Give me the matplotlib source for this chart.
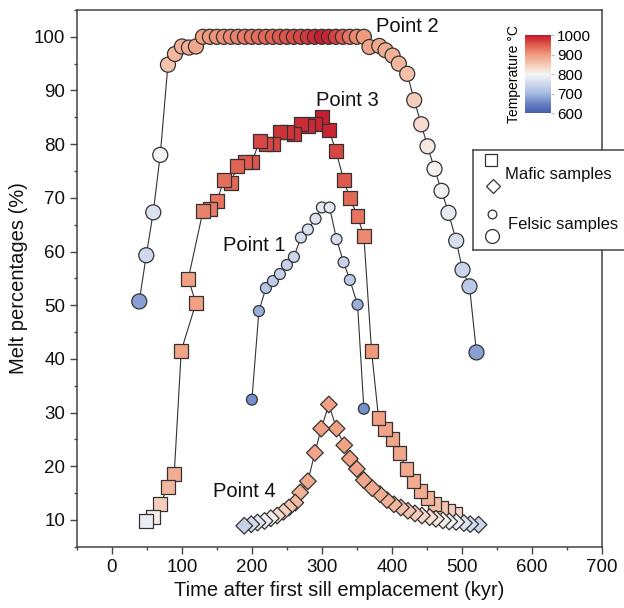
import numpy as np
import matplotlib
matplotlib.use("Agg")
import matplotlib.pyplot as plt
from matplotlib.colors import Normalize, LinearSegmentedColormap

plt.rcParams['font.family'] = ['Liberation Sans', 'DejaVu Sans']

# Point 1 - felsic (small circles)
t1 = [200, 210, 220, 230, 240, 250, 260, 270, 280, 291, 300, 311, 321, 331, 340, 351, 360]
v1 = [32.4, 48.9, 53.2, 54.5, 55.8, 57.5, 59.0, 62.6, 64.1, 66.1, 68.2, 68.2, 62.3, 58.0, 54.7, 50.1, 30.7]
T1 = [660, 690, 720, 730, 738, 742, 748, 758, 764, 770, 778, 778, 758, 742, 728, 690, 660]

# Point 2 - felsic (large circles)
t2 = [39, 49, 59, 69, 80, 90, 100, 110, 120,
      130, 140, 150, 160, 170, 180, 190, 200, 210, 220, 230, 240,
      250, 260, 270, 280, 290, 300, 310, 320, 330, 340, 350, 360,
      368, 382, 391, 401, 410, 422, 432, 442, 451, 461, 471, 481, 492, 501, 511, 521]
v2 = [50.7, 59.3, 67.3, 78.0, 94.8, 96.8, 98.2, 98.0, 98.2,
      100, 100, 100, 100, 100, 100, 100, 100, 100, 100, 100, 100,
      100, 100, 100, 100, 100, 100, 100, 100, 100, 100, 100, 100,
      98.1, 98.3, 97.5, 96.5, 95.0, 93.1, 88.2, 83.7, 79.6, 75.4, 71.3, 67.2, 62.0, 56.6, 53.5, 41.2]
T2 = [675, 750, 765, 800, 855, 870, 875, 880, 885,
      895, 900, 905, 910, 915, 920, 925, 930, 935, 940, 945, 950,
      955, 960, 965, 975, 985, 995, 990, 970, 950, 930, 915, 900,
      890, 885, 880, 875, 870, 860, 845, 830, 815, 805, 795, 780, 762, 745, 725, 675]

# Point 3 - mafic (squares)
t3 = [49, 59, 69, 80, 89, 99, 120, 109, 130, 140, 150, 160, 170, 179, 190, 200,
      211, 220, 230, 240, 250, 260, 270, 280, 290, 300, 310, 320, 331, 340, 351, 360,
      371, 381, 390, 401, 411, 421, 431, 441, 451, 461, 471, 481, 491]
v3 = [9.8, 10.5, 12.9, 16.2, 18.6, 41.5, 50.4, 54.9, 67.5, 68.0, 69.4, 73.3, 72.8, 75.9, 76.7, 76.7,
      80.6, 80.1, 80.1, 82.2, 82.2, 81.9, 83.7, 83.3, 83.7, 85.0, 82.7, 78.8, 73.4, 69.9, 66.6, 62.9,
      41.5, 29.0, 27.0, 25.0, 22.4, 19.4, 17.3, 15.4, 14.0, 13.0, 12.2, 11.6, 11.1]
T3 = [785, 810, 845, 870, 880, 890, 895, 895, 920, 925, 930, 935, 940, 945, 950, 955,
      965, 965, 968, 980, 980, 982, 985, 987, 990, 995, 990, 965, 950, 940, 930, 915,
      900, 895, 890, 888, 886, 884, 882, 880, 875, 865, 855, 845, 835]

# Point 4 - mafic (diamonds)
t4 = [189, 199, 208, 218, 227, 236, 245, 253, 262, 269, 280, 290, 299, 310,
      321, 332, 340, 350, 360, 372, 383, 393, 403, 413, 423, 433, 443, 454,
      463, 473, 482, 492, 503, 512, 524]
v4 = [8.9, 9.2, 9.5, 9.8, 10.3, 10.8, 11.5, 12.3, 13.2, 15.1, 17.2, 22.5, 27.0, 31.5,
      27.0, 23.9, 21.4, 19.5, 17.4, 15.9, 14.8, 13.7, 12.9, 12.3, 11.7, 11.2, 10.8, 10.5,
      10.2, 9.9, 9.7, 9.6, 9.4, 9.2, 9.1]
T4 = [740, 755, 775, 790, 805, 825, 840, 855, 865, 875, 885, 890, 895, 895,
      895, 893, 892, 890, 888, 885, 880, 875, 870, 862, 855, 845, 835, 825,
      815, 805, 795, 785, 770, 755, 745]

labels = ['Point 1', 'Point 2', 'Point 3', 'Point 4']
label_pos = [(159, 61.2), (377, 101.9), (292, 88.1), (144, 15.3)]

# muted blue-white-red scale like the original colour bar
cmap = LinearSegmentedColormap.from_list('temp', [
    (0.00, (70 / 255, 92 / 255, 170 / 255)),
    (0.12, (105 / 255, 130 / 255, 195 / 255)),
    (0.25, (165 / 255, 185 / 255, 225 / 255)),
    (0.38, (208 / 255, 218 / 255, 237 / 255)),
    (0.50, (245 / 255, 245 / 255, 245 / 255)),
    (0.62, (246 / 255, 202 / 255, 182 / 255)),
    (0.75, (240 / 255, 155 / 255, 125 / 255)),
    (0.87, (224 / 255, 95 / 255, 80 / 255)),
    (1.00, (198 / 255, 24 / 255, 46 / 255)),
])
norm = Normalize(600, 1000)
edge = '#333333'
line_c = '#333333'

fig = plt.figure(figsize=(6.24, 6.08), dpi=100)
ax = fig.add_axes([0.1234, 0.1008, 0.8409, 0.8828])

# connecting lines
for t, v in [(t3, v3), (t4, v4), (t2, v2), (t1, v1)]:
    ax.plot(t, v, color=line_c, lw=0.8, zorder=1)

# markers (mafic drawn so that earlier samples sit on top)
ax.scatter(t3[::-1], v3[::-1], c=T3[::-1], cmap=cmap, norm=norm, marker='s', s=100,
           edgecolors=edge, linewidths=0.9, zorder=2)
ax.scatter(t4[::-1], v4[::-1], c=T4[::-1], cmap=cmap, norm=norm, marker='D', s=72,
           edgecolors=edge, linewidths=0.9, zorder=3)
ax.scatter(t2, v2, c=T2, cmap=cmap, norm=norm, marker='o', s=117,
           edgecolors=edge, linewidths=0.9, zorder=2)
sc = ax.scatter(t1, v1, c=T1, cmap=cmap, norm=norm, marker='o', s=62,
                edgecolors=edge, linewidths=0.9, zorder=2)

for lab, (x, y) in zip(labels, label_pos):
    ax.text(x, y, lab, fontsize=14.5, ha='left', va='center', color='#111111', zorder=5)

ax.set_xlim(-50, 700)
ax.set_ylim(5, 105)
ax.set_xticks(np.arange(0, 701, 100))
ax.set_xticks(np.arange(-50, 701, 50), minor=True)
ax.set_yticks(np.arange(10, 101, 10))
ax.set_yticks(np.arange(5, 106, 5), minor=True)
ax.tick_params(which='major', direction='out', length=5, width=1, labelsize=13.5,
               color='#444444', labelcolor='#111111')
ax.tick_params(which='minor', direction='out', length=2.5, width=1, color='#444444')
for sp in ax.spines.values():
    sp.set_color('#444444')
    sp.set_linewidth(1.1)
ax.set_xlabel('Time after first sill emplacement (kyr)', fontsize=14.5, color='#111111', labelpad=4)
ax.set_ylabel('Melt percentages (%)', fontsize=14.5, color='#111111', labelpad=4)

# colorbar
cax = fig.add_axes([0.8413, 0.8141, 0.0417, 0.1283])
cb = fig.colorbar(sc, cax=cax, ticks=[600, 700, 800, 900, 1000])
cb.outline.set_visible(False)
cax.tick_params(labelsize=11, length=2.5, width=0.8, color='#bbbbbb', pad=2)
cax.yaxis.set_label_position('left')
cb.set_label('Temperature °C', fontsize=10, labelpad=3)

# legend box (runs off the right edge like the original)
lax = fig.add_axes([473 / 624, 1 - 250 / 608, 0.3, 100 / 608])
lax.set_xlim(0, 1)
lax.set_ylim(0, 1)
lax.set_xticks([])
lax.set_yticks([])
for sp in lax.spines.values():
    sp.set_color('#444444')
    sp.set_linewidth(1.1)
mk = dict(color='white', markeredgecolor=edge, markeredgewidth=0.9, linestyle='none')
lax.plot([0.096], [0.90], marker='s', markersize=9.2, **mk)
lax.plot([0.107], [0.64], marker='D', markersize=7.5, **mk)
lax.plot([0.10], [0.36], marker='o', markersize=6.3, **mk)
lax.plot([0.10], [0.14], marker='o', markersize=10, **mk)
lax.text(0.171, 0.75, 'Mafic samples', fontsize=12, va='center', color='#111111')
lax.text(0.187, 0.25, 'Felsic samples', fontsize=12, va='center', color='#111111')

fig.savefig('out.png', dpi=100)
